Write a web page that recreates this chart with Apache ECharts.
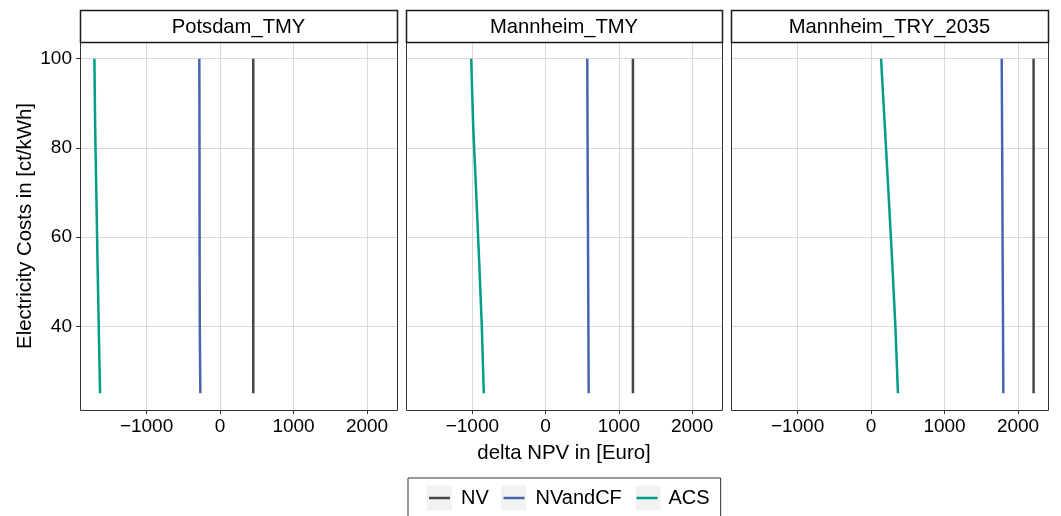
<!DOCTYPE html>
<html><head><meta charset="utf-8">
<script src="https://cdn.jsdelivr.net/npm/echarts@6/dist/echarts.min.js"></script>
<style>html,body{margin:0;padding:0;background:#fff}#c{width:1061px;height:516px}</style>
</head><body><div id="c"></div>
<script>
// ---- data ----
const panels = ['Potsdam_TMY', 'Mannheim_TMY', 'Mannheim_TRY_2035'];
const seriesNames = ['NV', 'NVandCF', 'ACS'];
const costs = [25, 40, 55, 70, 85, 100];           // Electricity costs [ct/kWh]
// delta NPV [Euro], one value per cost level
const potsdamNV      = [452, 452, 452, 452, 452, 452];
const potsdamNVandCF = [-268, -276, -278, -279, -280, -282];
const potsdamACS     = [-1633, -1651, -1668, -1684, -1700, -1710];
const mannheimNV      = [1192, 1192, 1192, 1192, 1192, 1192];
const mannheimNVandCF = [588, 584, 580, 576, 572, 569];
const mannheimACS     = [-844, -871, -908, -948, -989, -1016];
const try2035NV      = [2212, 2212, 2212, 2212, 2212, 2212];
const try2035NVandCF = [1800, 1796, 1791, 1787, 1783, 1778];
const try2035ACS     = [366, 331, 286, 237, 187, 136];
const xTicks = [-1000, 0, 1000, 2000];
const yTicks = [40, 60, 80, 100];

const panelData = [
  [potsdamNV, potsdamNVandCF, potsdamACS],
  [mannheimNV, mannheimNVandCF, mannheimACS],
  [try2035NV, try2035NVandCF, try2035ACS]
];

// ---- styles / layout ----
const colors = ['#464646', '#4765AF', '#009E85'];
const FONT = "'Liberation Sans', Arial, sans-serif";
const TXT = '#000';
const gridLefts = [80, 406, 731];
const gridWidths = [317, 316, 317];
const gridTop = 42, gridHeight = 368;
const stripTop = 10, stripH = 32;

const grids = [], xAxes = [], yAxes = [], series = [], graphics = [];
panels.forEach((p, i) => {
  grids.push({left: gridLefts[i], top: gridTop, width: gridWidths[i], height: gridHeight, containLabel: false});
  xAxes.push({
    type: 'value', gridIndex: i, min: -1906, max: 2408, position: 'bottom',
    axisLine: {show: false, onZero: false},
    axisTick: {show: true, length: 4, customValues: xTicks, lineStyle: {color: '#333', width: 1}},
    axisLabel: {customValues: xTicks, fontSize: 19, color: TXT, fontFamily: FONT, margin: 7,
      formatter: v => (v < 0 ? '\u2212' + Math.abs(v) : String(v))},
    splitLine: {show: true, lineStyle: {color: '#D9D9D9', width: 1}},
    name: i === 1 ? 'delta NPV in [Euro]' : '',
    nameLocation: 'middle', nameGap: 33,
    nameTextStyle: {fontSize: 20.4, color: TXT, fontFamily: FONT}
  });
  yAxes.push({
    type: 'value', gridIndex: i, min: 21.25, max: 103.75, position: 'left',
    axisLine: {show: false, onZero: false},
    axisTick: {show: i === 0, length: 4, customValues: yTicks, lineStyle: {color: '#333', width: 1}},
    axisLabel: {show: i === 0, customValues: yTicks, fontSize: 19, color: TXT, fontFamily: FONT, margin: 8},
    splitLine: {show: true, lineStyle: {color: '#D9D9D9', width: 1}},
    name: i === 0 ? 'Electricity Costs in [ct/kWh]' : '',
    nameLocation: 'middle', nameGap: 45, nameRotate: 90,
    nameTextStyle: {fontSize: 20.4, color: TXT, fontFamily: FONT}
  });
  seriesNames.forEach((s, k) => {
    series.push({
      name: s, type: 'line', xAxisIndex: i, yAxisIndex: i,
      data: costs.map((c, j) => [panelData[i][k][j], c]),
      showSymbol: false, symbol: 'none', color: colors[k],
      lineStyle: {width: 2.5, color: colors[k]}, z: 3
    });
  });
  // panel frame
  graphics.push({type: 'rect', z: 10, silent: true,
    shape: {x: gridLefts[i] + 0.5, y: gridTop + 0.5, width: gridWidths[i], height: gridHeight},
    style: {fill: null, stroke: '#333', lineWidth: 1}});
  // strip
  graphics.push({type: 'rect', z: 10, silent: true,
    shape: {x: gridLefts[i] + 0.5, y: stripTop + 0.5, width: gridWidths[i], height: stripH},
    style: {fill: '#fff', stroke: '#1a1a1a', lineWidth: 1.5}});
  graphics.push({type: 'text', z: 11, silent: true,
    x: gridLefts[i] + gridWidths[i] / 2, y: stripTop + stripH / 2 + 1,
    style: {text: p, fontSize: 20.2, fontFamily: FONT, fill: TXT, align: 'center', verticalAlign: 'middle'}});
});
// legend key backgrounds
[426.7, 501.2, 635.7].forEach(x => {
  graphics.push({type: 'rect', z: 0, silent: true,
    shape: {x: x, y: 485.5, width: 25, height: 25}, style: {fill: '#F2F2F2'}});
});

const chart = echarts.init(document.getElementById('c'), null, {renderer: 'canvas'});
chart.setOption({
  animation: false,
  backgroundColor: '#fff',
  grid: grids, xAxis: xAxes, yAxis: yAxes, series: series,
  legend: {
    data: seriesNames, left: 408, top: 478, orient: 'horizontal',
    padding: [7.5, 11, 10, 21], itemGap: 14.7, itemWidth: 21, itemHeight: 2.5,
    icon: 'rect', borderColor: '#333', borderWidth: 1, z: 5,
    textStyle: {fontSize: 20, color: TXT, fontFamily: FONT, lineHeight: 25, padding: [0, 0, 0, 6]}
  },
  graphic: graphics
});
</script></body></html>
